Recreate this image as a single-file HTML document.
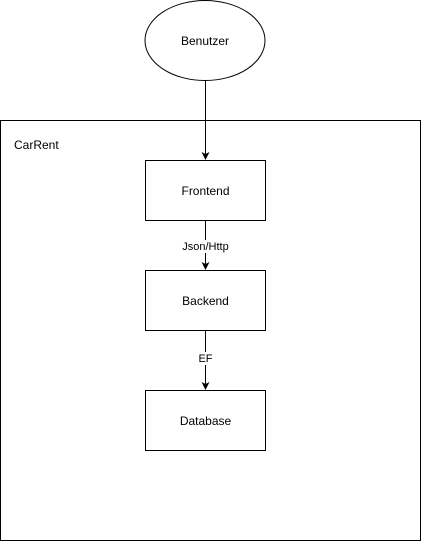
<!DOCTYPE html>
<html><head><style>body{margin:0;background:#fff}</style></head><body>
<svg width="421" height="541" xmlns="http://www.w3.org/2000/svg" font-family="Liberation Sans, Helvetica, sans-serif">
<rect x="0" y="0" width="421" height="541" fill="#fff"/>
<rect x="0.5" y="120.5" width="420" height="420" fill="#fff" stroke="#000"/>
<text x="14" y="149" font-size="12">CarRent</text>
<ellipse cx="205" cy="40.5" rx="60" ry="40" fill="#fff" stroke="#000"/>
<text x="205" y="45" font-size="12" text-anchor="middle">Benutzer</text>
<g stroke="#000" fill="none">
<line x1="205.5" y1="80" x2="205.5" y2="154"/>
<line x1="205.5" y1="220" x2="205.5" y2="264"/>
<line x1="205.5" y1="330" x2="205.5" y2="384"/>
</g>
<g fill="#000">
<path d="M201.5 152 L205.5 160 L209.5 152 L205.5 154 Z"/>
<path d="M201.5 262 L205.5 270 L209.5 262 L205.5 264 Z"/>
<path d="M201.5 382 L205.5 390 L209.5 382 L205.5 384 Z"/>
</g>
<rect x="145.5" y="160.5" width="120" height="60" fill="#fff" stroke="#000"/>
<text x="205.5" y="195" font-size="12" text-anchor="middle">Frontend</text>
<rect x="145.5" y="270.5" width="120" height="60" fill="#fff" stroke="#000"/>
<text x="205.5" y="305" font-size="12" text-anchor="middle">Backend</text>
<rect x="145.5" y="390.5" width="120" height="60" fill="#fff" stroke="#000"/>
<text x="205.5" y="425" font-size="12" text-anchor="middle">Database</text>
<rect x="170" y="240" width="72" height="13" fill="#fff"/>
<text x="205.5" y="250" font-size="11" text-anchor="middle">Json/Http</text>
<rect x="196" y="352" width="20" height="13" fill="#fff"/>
<text x="205.5" y="362" font-size="11" text-anchor="middle">EF</text>
</svg>
</body></html>
